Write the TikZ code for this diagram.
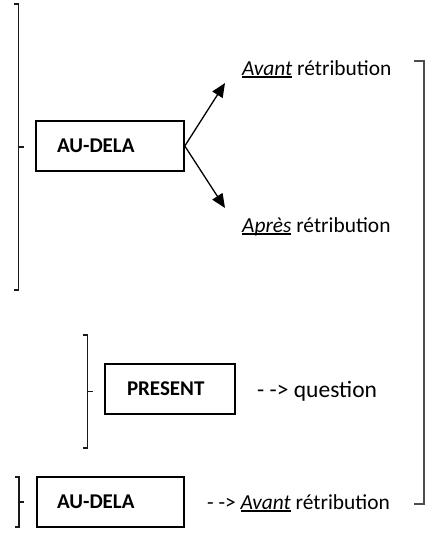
\documentclass[tikz,border=0pt]{standalone}
\usepackage{fontspec}
\setmainfont{Carlito}
\usetikzlibrary{arrows.meta}

% thick underline placed a little below the baseline
\newcommand\thickul[1]{\setbox0\hbox{#1}\rlap{\raisebox{-3pt}{\rule{\wd0}{1.7pt}}}\box0\relax}

\tikzset{
  txt/.style={anchor=base west, inner sep=0pt, font=\fontsize{21.4}{25}\selectfont},
  bigtxt/.style={anchor=base west, inner sep=0pt, font=\fontsize{23.5}{28}\selectfont},
  labelbox/.style={draw, line width=1.6pt, rectangle, minimum height=50pt,
    inner ysep=0pt, align=left, font=\fontsize{21}{25}\selectfont\bfseries},
  brk/.style={line width=1.4pt, black!90},
  rbrk/.style={line width=2pt, black!70},
  arr/.style={line width=1.3pt, -{Triangle[length=14pt,width=12pt]}}
}

\begin{document}
\begin{tikzpicture}[x=1pt, y=-1pt]
  \useasboundingbox (0,0) rectangle (430,533);

  % boxes
  \node[labelbox, minimum width=148pt, inner xsep=21pt, text width=106pt] (ad1) at (110,146) {AU-DELA};
  \node[labelbox, minimum width=130pt, inner xsep=22pt, text width=86pt] (pres) at (170,389) {PRESENT};
  \node[labelbox, minimum width=147pt, inner xsep=20pt, text width=107pt] (ad2) at (110.5,502) {AU-DELA};

  % texts
  \node[txt] (avant) at (242,75) {\thickul{\itshape Avant} rétribution};
  \node[txt] (apres) at (242,232) {\thickul{\itshape Après} rétribution};
  \node[bigtxt] (quest) at (257,397) {- -> question};
  \node[txt] (avant2) at (207,509) {- -> \thickul{\itshape Avant} rétribution};

  % arrows out of the first box
  \coordinate (tipA) at (225,83);
  \coordinate (tipB) at (225,208);
  \draw[arr] (ad1.east) -- (tipA);
  \draw[arr] (ad1.east) -- (tipB);

  % left brackets
  \draw[brk] (14,4) -- (18.5,4) -- (18.5,290) -- (14,290);
  \draw[brk] (18.5,147) -- (23.5,147);
  \draw[brk] (83,335) -- (87.5,335) -- (87.5,448) -- (83,448);
  \draw[brk] (87.5,391.5) -- (93,391.5);
  \draw[brk] (15,477) -- (19,477) -- (19,527) -- (15,527);
  \draw[brk] (19,502) -- (24,502);

  % right bracket
  \draw[rbrk] (414,61) -- (423.5,61) -- (423.5,504) -- (414,504);
\end{tikzpicture}
\end{document}
